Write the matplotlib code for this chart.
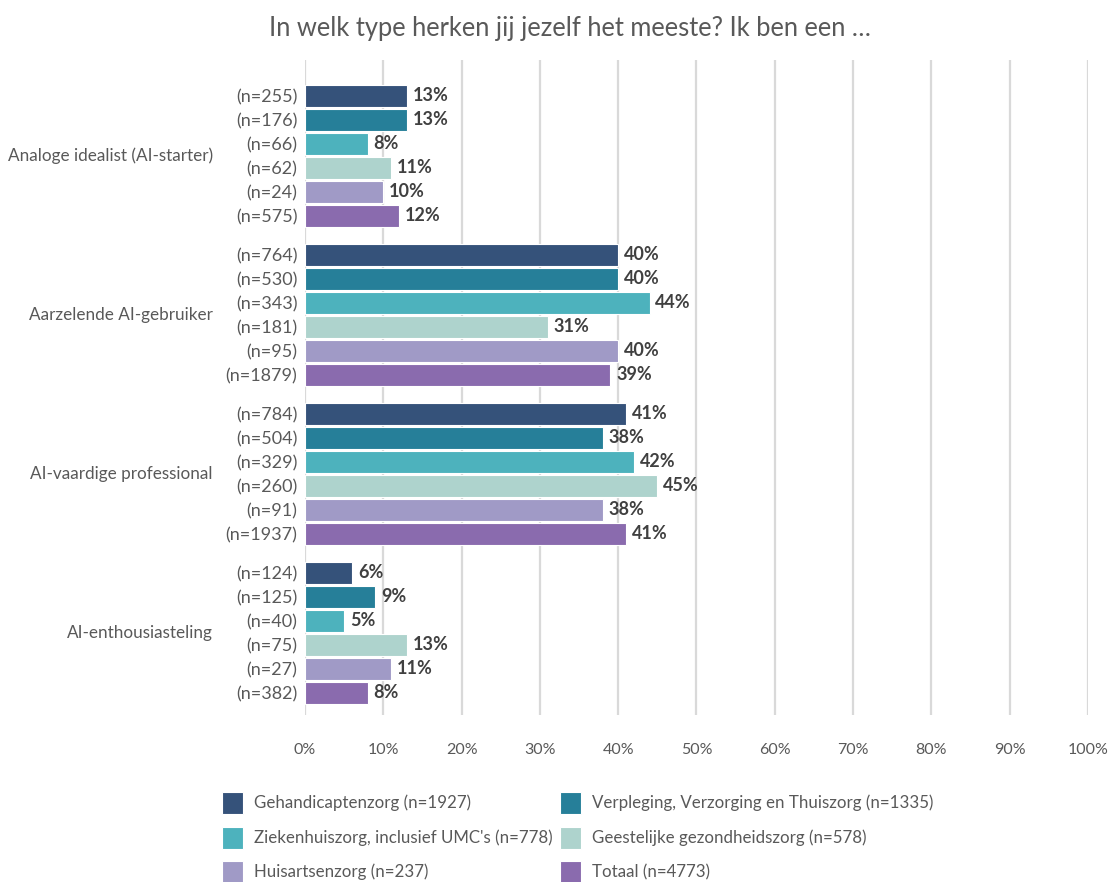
import matplotlib.pyplot as plt
from matplotlib.patches import Rectangle

# ---------- data ----------

groups = [
    "Analoge idealist (AI-starter)",
    "Aarzelende AI-gebruiker",
    "AI-vaardige professional",
    "AI-enthousiasteling",
]

series = [
    "Gehandicaptenzorg (n=1927)",
    "Verpleging, Verzorging en Thuiszorg (n=1335)",
    "Ziekenhuiszorg, inclusief UMC's (n=778)",
    "Geestelijke gezondheidszorg (n=578)",
    "Huisartsenzorg (n=237)",
    "Totaal (n=4773)",
]

colors = ["#35527a", "#267f99", "#4db2bd", "#aed3cd", "#a09ac6", "#8a6bae"]

# one row per group, one entry per series
pct = [
    [13, 13, 8, 11, 10, 12],
    [40, 40, 44, 31, 40, 39],
    [41, 38, 42, 45, 38, 41],
    [6, 9, 5, 13, 11, 8],
]

counts = [
    [255, 176, 66, 62, 24, 575],
    [764, 530, 343, 181, 95, 1879],
    [784, 504, 329, 260, 91, 1937],
    [124, 125, 40, 75, 27, 382],
]

xticks = list(range(0, 101, 10))

# ---------- style ----------

plt.rcParams["font.family"] = ["Lato", "DejaVu Sans"]
TEXT = "#595959"
VALUE = "#404040"

GROUP_STEP = 6.625
BAR_H = 0.88

fig = plt.figure(figsize=(11.11, 8.82), dpi=100)
ax = fig.add_axes([0.2745, 0.1893, 0.7048, 0.7427])

ypos, ylabels = [], []
for gi, (vals, ns) in enumerate(zip(pct, counts)):
    for si, (v, n) in enumerate(zip(vals, ns)):
        y = gi * GROUP_STEP + si
        ax.barh(y, v, height=BAR_H, color=colors[si],
                edgecolor="white", linewidth=0.8, zorder=3)
        ax.text(v + 0.75, y, f"{v}%", va="center", ha="left",
                fontsize=13, fontweight="bold", color=VALUE, zorder=4)
        ypos.append(y)
        ylabels.append(f"(n={n})")
    ax.text(-0.1175, gi * GROUP_STEP + 2.5, groups[gi],
            transform=ax.get_yaxis_transform(), ha="right", va="center",
            fontsize=12.3, color=TEXT)

ax.set_xlim(0, 100)
ax.set_ylim(3 * GROUP_STEP + 5 + 0.92, -1.5)
ax.set_yticks(ypos)
ax.set_yticklabels(ylabels, fontsize=13, color=TEXT)
ax.set_xticks(xticks)
ax.set_xticklabels([f"{t}%" for t in xticks], fontsize=11.5, color=TEXT)
ax.tick_params(axis="both", length=0)
ax.tick_params(axis="y", pad=5.5)
ax.tick_params(axis="x", pad=20)
for s in ax.spines.values():
    s.set_visible(False)
ax.grid(axis="x", color="#d9d9d9", linewidth=1.6, zorder=0)
ax.set_axisbelow(True)

fig.text(0.513, 0.968, "In welk type herken jij jezelf het meeste? Ik ben een \u2026",
         ha="center", va="center", fontsize=18.4, color=TEXT)

# ---------- legend ----------

col_x = [222 / 1111, 560 / 1111]
row_y = [803 / 882, 838 / 882, 872 / 882]
sq_w, sq_h = 21 / 1111, 22 / 882
for i, (name, c) in enumerate(zip(series, colors)):
    x0 = col_x[i % 2]
    yc = 1 - row_y[i // 2]
    fig.add_artist(Rectangle((x0, yc - sq_h / 2), sq_w, sq_h,
                             transform=fig.transFigure, facecolor=c,
                             edgecolor="white", linewidth=0.8))
    fig.text(x0 + 32 / 1111, yc, name, ha="left", va="center",
             fontsize=12.2, color=TEXT)

fig.savefig("out.png", dpi=100)
